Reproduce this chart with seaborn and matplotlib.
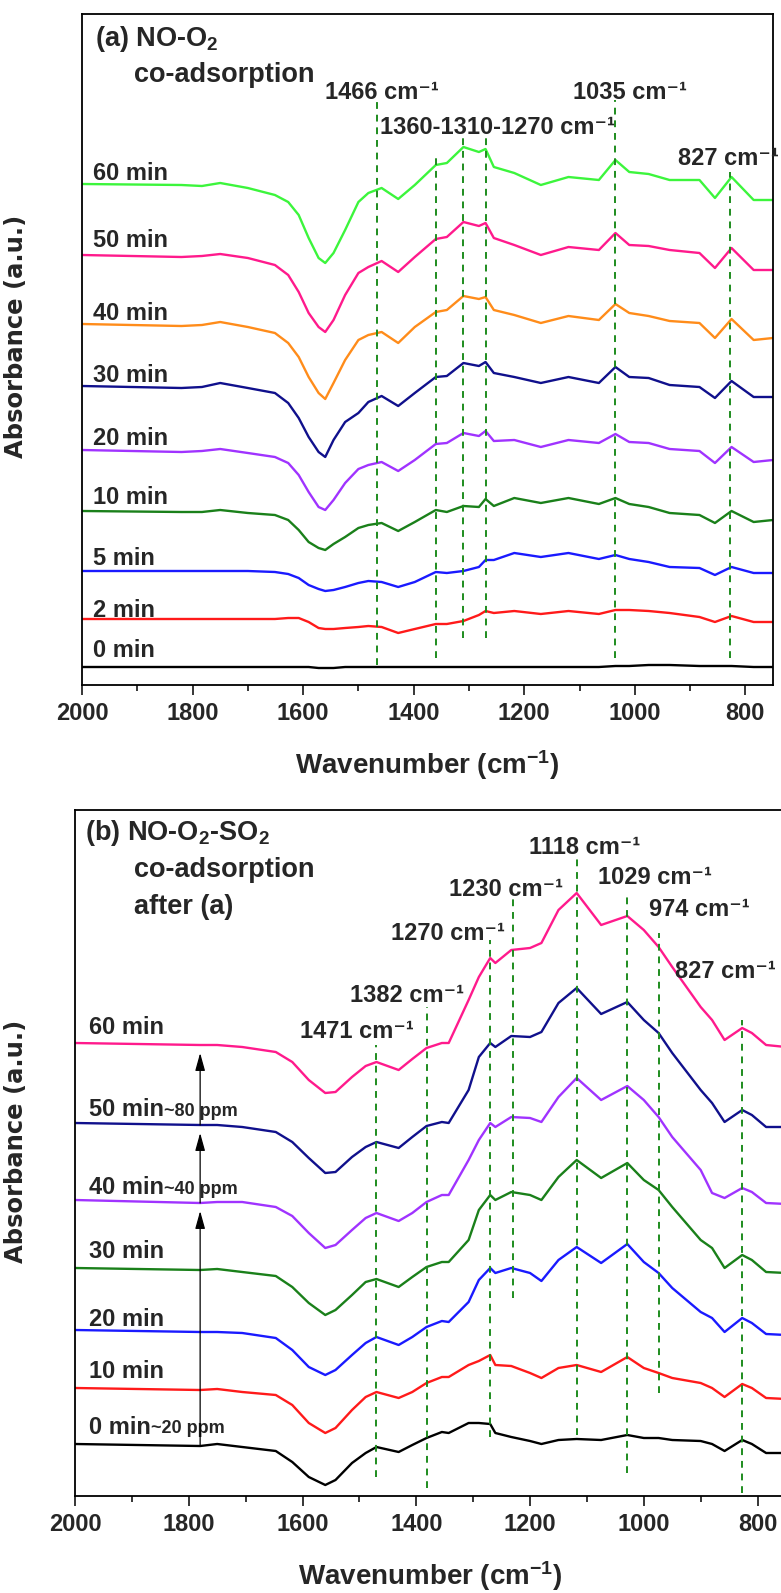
import matplotlib
matplotlib.use("Agg")
import matplotlib.pyplot as plt
from matplotlib.ticker import MultipleLocator
import pandas as pd
import seaborn as sns

# ---- data (absorbance in arbitrary units, offset stacked) ----
# (a) NO-O2 co-adsorption
wn_a = [2000, 1820, 1783, 1750, 1700, 1651, 1627, 1608, 1590, 1572, 1560, 1545, 1524,
        1500, 1482, 1458, 1428, 1398, 1360, 1340, 1310, 1282, 1270, 1255, 1218, 1170,
        1120, 1065, 1035, 1010, 975, 937, 883, 855, 825, 785, 750]
a60 = [501, 500, 499, 502, 497, 490, 483, 470, 447, 427, 422, 432, 455, 483, 492, 497, 486,
       500, 520, 522, 538, 533, 536, 518, 512, 500, 508, 505, 525, 513, 511, 505, 505, 487,
       508, 485, 485]
a50 = [430, 428, 429, 431, 427, 420, 410, 393, 372, 358, 353, 365, 390, 412, 418, 424, 413,
       428, 446, 448, 463, 459, 462, 447, 440, 430, 438, 435, 452, 440, 439, 435, 432, 417,
       437, 415, 415]
a40 = [361, 359, 360, 363, 358, 352, 342, 328, 308, 292, 286, 302, 325, 345, 350, 353, 342,
       358, 373, 375, 389, 386, 388, 375, 370, 362, 369, 365, 381, 372, 369, 364, 362, 347,
       366, 345, 347]
a30 = [299, 297, 298, 302, 297, 292, 282, 267, 248, 233, 228, 245, 263, 272, 283, 289, 279,
       292, 308, 309, 322, 319, 323, 312, 308, 302, 308, 302, 318, 308, 307, 300, 298, 287,
       304, 288, 288]
a20 = [235, 233, 234, 236, 232, 228, 222, 210, 193, 178, 175, 185, 202, 216, 220, 223, 214,
       225, 241, 242, 252, 249, 254, 244, 245, 238, 245, 242, 251, 243, 242, 236, 234, 222,
       238, 223, 225]
a10 = [174, 173, 173, 175, 172, 170, 165, 155, 143, 137, 135, 141, 148, 157, 160, 162, 154,
       163, 175, 173, 179, 178, 186, 179, 187, 182, 187, 181, 187, 181, 178, 172, 170, 162,
       174, 163, 165]
a5 = [114, 114, 114, 114, 114, 113, 111, 107, 100, 96, 94, 95, 98, 102, 104, 103, 98,
      103, 113, 112, 114, 118, 125, 125, 132, 128, 132, 126, 130, 126, 123, 118, 117, 110,
      118, 112, 112]
a2 = [66, 66, 66, 66, 66, 66, 67, 67, 63, 57, 56, 56, 57, 58, 59, 58, 52,
      56, 61, 61, 64, 70, 74, 72, 74, 71, 74, 71, 75, 75, 74, 72, 68, 63,
      69, 63, 63]
a0 = [18, 18, 18, 18, 18, 18, 18, 18, 18, 17, 17, 17, 18, 18, 18, 18, 18,
      18, 18, 18, 18, 18, 18, 18, 18, 18, 18, 18, 19, 19, 20, 20, 19, 19,
      19, 18, 18]
labels_a = ["60 min", "50 min", "40 min", "30 min", "20 min", "10 min", "5 min", "2 min", "0 min"]
colors_a = ["#3CF53C", "#FF1A8C", "#FF8C1A", "#10108C", "#A033FF", "#1A801A", "#1A1AFF", "#FF1A1A", "#000000"]
peaks_a = [1466, 1360, 1310, 1270, 1035, 827]
peak_top_a = [585, 527, 548, 547, 585, 513]
peak_bot_a = [20, 27, 47, 47, 27, 27]

# (b) NO-O2-SO2 co-adsorption after (a)
wn_b = [2000, 1780, 1750, 1706, 1647, 1618, 1589, 1560, 1542, 1513, 1489, 1470, 1431,
        1407, 1382, 1355, 1343, 1308, 1290, 1270, 1261, 1233, 1200, 1180, 1150, 1118,
        1075, 1029, 1000, 974, 950, 900, 880, 858, 827, 810, 785, 750]
b60 = [453, 451, 451, 449, 444, 434, 416, 403, 404, 419, 430, 434, 426, 437, 448, 453, 453,
       496, 519, 538, 533, 546, 548, 553, 586, 603, 571, 580, 566, 549, 529, 489, 476, 456,
       468, 463, 451, 449]
b50 = [373, 371, 371, 369, 364, 354, 338, 323, 324, 339, 349, 354, 348, 359, 370, 374, 373,
       406, 439, 453, 449, 460, 459, 464, 493, 508, 482, 494, 476, 463, 443, 406, 393, 374,
       386, 381, 369, 369]
b40 = [296, 293, 294, 294, 289, 280, 263, 248, 251, 266, 278, 283, 275, 283, 294, 301, 301,
       336, 356, 373, 369, 379, 378, 374, 399, 418, 396, 410, 396, 379, 359, 326, 303, 298,
       308, 304, 293, 292]
b30 = [228, 226, 227, 224, 220, 209, 193, 181, 186, 201, 214, 217, 209, 219, 229, 234, 234,
       256, 286, 301, 296, 304, 301, 296, 319, 336, 318, 333, 316, 306, 289, 256, 248, 228,
       241, 236, 224, 223]
b20 = [166, 164, 164, 163, 158, 146, 129, 121, 126, 141, 153, 159, 151, 159, 169, 175, 174,
       194, 216, 228, 223, 228, 223, 215, 236, 249, 233, 252, 234, 223, 208, 184, 178, 164,
       178, 173, 162, 161]
b10 = [108, 106, 107, 104, 101, 91, 73, 63, 68, 86, 99, 104, 98, 104, 113, 119, 119,
       131, 135, 141, 131, 130, 123, 118, 128, 131, 124, 139, 128, 123, 118, 113, 108, 99,
       112, 108, 98, 97]
b0 = [52, 50, 52, 49, 45, 34, 19, 11, 16, 33, 43, 49, 44, 51, 58, 64, 63,
      73, 73, 72, 63, 59, 55, 52, 56, 57, 56, 61, 58, 58, 56, 55, 52, 45,
      56, 52, 43, 43]
labels_b = ["60 min", "50 min", "40 min", "30 min", "20 min", "10 min", "0 min"]
ppm_b = ["", "~80 ppm", "~40 ppm", "", "", "", "~20 ppm"]
colors_b = ["#FF1A8C", "#10108C", "#A033FF", "#1A801A", "#1A1AFF", "#FF1A1A", "#000000"]
peaks_b = [1471, 1382, 1270, 1230, 1118, 1029, 974, 827]
peak_top_b = [451, 489, 556, 598, 639, 599, 563, 476]
peak_bot_b = [19, 8, 59, 198, 61, 23, 103, 3]
# SO2 dosing arrows at 1780 cm-1: (from curve, to curve)
arrows_b = [(1, 0), (2, 1), (6, 2)]

CM = " cm\u207b\u00b9"

sns.set_theme(style="ticks")
plt.rcParams["font.family"] = ["Liberation Sans", "DejaVu Sans"]
plt.rcParams["font.weight"] = "bold"
plt.rcParams["axes.labelweight"] = "bold"
plt.rcParams["mathtext.fontset"] = "custom"
plt.rcParams["mathtext.rm"] = "Liberation Sans:bold"
plt.rcParams["mathtext.bf"] = "Liberation Sans:bold"
plt.rcParams["mathtext.it"] = "Liberation Sans:bold"
plt.rcParams["mathtext.default"] = "rm"

GREEN = "#1E8C1E"
fig = plt.figure(figsize=(7.81, 15.93), dpi=100)
ax1 = fig.add_axes([82 / 781, 1 - 685 / 1593, 691 / 781, 671 / 1593])
ax2 = fig.add_axes([75 / 781, 1 - 1496 / 1593, 711 / 781, 686 / 1593])


def style_axis(ax, ymax):
    ax.set_xlim(2000, 750)
    ax.set_ylim(0, ymax)
    ax.set_xticks([2000, 1800, 1600, 1400, 1200, 1000, 800])
    ax.xaxis.set_minor_locator(MultipleLocator(100))
    ax.set_yticks([])
    ax.tick_params(axis="x", which="major", direction="out", length=7, width=1.3,
                   labelsize=17, pad=5, top=False)
    ax.tick_params(axis="x", which="minor", direction="out", length=4, width=1.3, top=False)
    for lab in ax.get_xticklabels():
        lab.set_fontweight("bold")
    for sp in ax.spines.values():
        sp.set_visible(True)
        sp.set_linewidth(1.3)
        sp.set_color("black")
    ax.set_xlabel("Wavenumber (cm$^{-1}$)", fontsize=20, fontweight="bold", labelpad=17)
    ax.set_ylabel("Absorbance (a.u.)", fontsize=17.5, fontweight="bold",
                  family=["DejaVu Sans"])


# ---- panel (a) ----
curves_a = [a60, a50, a40, a30, a20, a10, a5, a2, a0]
ya = [512, 445, 372, 310, 247, 188, 127, 75, 35]
for vals, col, lab, yl in zip(curves_a, colors_a, labels_a, ya):
    df = pd.DataFrame({"wn": wn_a, "abs": vals})
    sns.lineplot(data=df, x="wn", y="abs", color=col, linewidth=1.7, ax=ax1, legend=False)
    ax1.text(1980, yl, lab, fontsize=17, fontweight="bold", va="center", ha="left")
ax1.vlines(peaks_a, peak_bot_a, peak_top_a, colors=GREEN, linewidth=1.4,
           linestyles=(0, (3.5, 3)))
style_axis(ax1, 671)
ax1.yaxis.set_label_coords(-0.078, 0.52)
ax1.text(1977, 646, "(a) NO-O$_2$", fontsize=19.5, fontweight="bold", va="center")
ax1.text(1906, 610, "co-adsorption", fontsize=19.5, fontweight="bold", va="center")
ax1.text(1561, 593, "1466" + CM, fontsize=17, fontweight="bold", va="center")
ax1.text(1461, 558, "1360-1310-1270" + CM, fontsize=17, fontweight="bold", va="center")
ax1.text(1111, 593, "1035" + CM, fontsize=17, fontweight="bold", va="center")
ax1.text(921, 527, "827" + CM, fontsize=17, fontweight="bold", va="center")

# ---- panel (b) ----
curves_b = [b60, b50, b40, b30, b20, b10, b0]
yb = [469, 386, 308, 244, 176, 124, 69]
for vals, col, lab, ppm, yl in zip(curves_b, colors_b, labels_b, ppm_b, yb):
    df = pd.DataFrame({"wn": wn_b, "abs": vals})
    sns.lineplot(data=df, x="wn", y="abs", color=col, linewidth=1.7, ax=ax2, legend=False)
    t = ax2.text(1975, yl, lab, fontsize=17, fontweight="bold", va="center", ha="left")
    if ppm:
        ax2.annotate(ppm, xy=(1, 0.08), xycoords=t, fontsize=13, fontweight="bold",
                     va="bottom", ha="left")
ax2.vlines(peaks_b, peak_bot_b, peak_top_b, colors=GREEN, linewidth=1.4,
           linestyles=(0, (3.5, 3)))
i_arr = wn_b.index(1780)
for src, dst in arrows_b:
    ax2.annotate("", xy=(1780, curves_b[dst][i_arr] - 8), xytext=(1780, curves_b[src][i_arr]),
                 arrowprops=dict(arrowstyle="-|>,head_length=0.9,head_width=0.25",
                                 color="black", linewidth=0.9, shrinkA=0, shrinkB=0))
style_axis(ax2, 686)
ax2.yaxis.set_label_coords(-0.066, 0.517)
ax2.text(1982, 663, "(b) NO-O$_2$-SO$_2$", fontsize=19.5, fontweight="bold", va="center")
ax2.text(1896, 626, "co-adsorption", fontsize=19.5, fontweight="bold", va="center")
ax2.text(1896, 589, "after (a)", fontsize=19.5, fontweight="bold", va="center")
peak_text_b = [("1471", 1605, 464), ("1382", 1517, 501), ("1270", 1445, 563),
               ("1230", 1343, 607), ("1118", 1202, 649), ("1029", 1081, 619),
               ("974", 990, 586), ("827", 945, 524)]
for s, xx, yy in peak_text_b:
    ax2.text(xx, yy, s + CM, fontsize=17, fontweight="bold", va="center")

fig.savefig("out.png", dpi=100)
